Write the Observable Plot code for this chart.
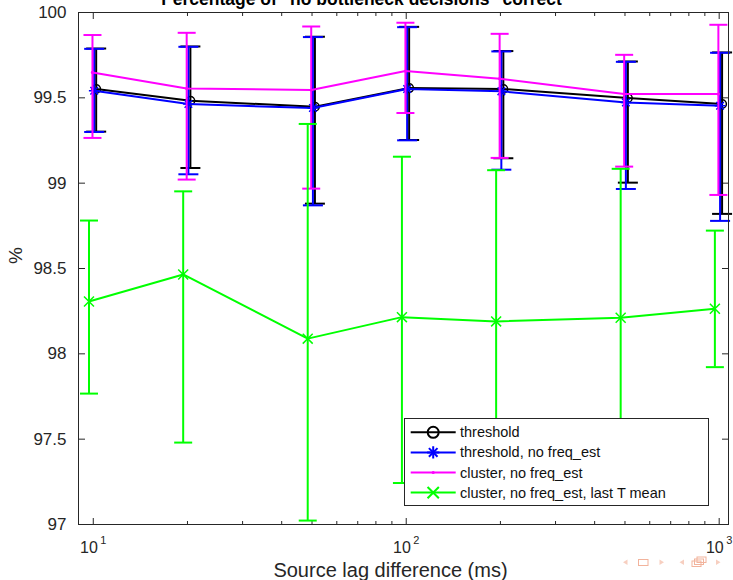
<!DOCTYPE html>
<html>
<head>
<meta charset="utf-8">
<script src="https://cdn.jsdelivr.net/npm/d3@7"></script>
<script src="https://cdn.jsdelivr.net/npm/@observablehq/plot@0.6"></script>
<style>
html, body { margin: 0; padding: 0; background: #fff; }
#chart { position: relative; width: 733px; height: 580px; overflow: hidden; }
</style>
</head>
<body>
<div id="chart"></div>
<script>
// ---------- data ----------
const lagMs = [10, 20, 50, 100, 200, 500, 1000];

const thresholdMean = [99.552, 99.483, 99.448, 99.557, 99.552, 99.499, 99.464];
const thresholdHi   = [99.789, 99.801, 99.858, 99.916, 99.774, 99.713, 99.766];
const thresholdLo   = [99.302, 99.089, 98.880, 99.253, 99.146, 99.003, 98.820];

const noFreqMean = [99.542, 99.464, 99.440, 99.552, 99.538, 99.473, 99.454];
const noFreqHi   = [99.787, 99.799, 99.856, 99.914, 99.772, 99.711, 99.764];
const noFreqLo   = [99.300, 99.052, 98.870, 99.251, 99.079, 98.966, 98.779];

const clusterMean = [99.649, 99.555, 99.546, 99.657, 99.612, 99.522, 99.522];
const clusterHi   = [99.868, 99.881, 99.918, 99.940, 99.875, 99.752, 99.928];
const clusterLo   = [99.265, 99.021, 98.968, 99.411, 99.148, 99.097, 98.931];

const lastTMean = [98.307, 98.465, 98.089, 98.215, 98.190, 98.211, 98.264];
const lastTHi   = [98.781, 98.952, 99.347, 99.155, 99.076, 99.084, 98.722];
const lastTLo   = [97.767, 97.480, 97.023, 97.243, 97.171, 97.279, 97.922];

const seriesNames = ["threshold", "threshold, no freq_est", "cluster, no freq_est", "cluster, no freq_est, last T mean"];
const seriesColors = ["#000000", "#0000ff", "#ff00ff", "#00ff00"];

const xMajorTicks = [10, 100, 1000];
const xMajorLabels = ["10^1", "10^2", "10^3"];
const xMinorTicks = [20, 30, 40, 50, 60, 70, 80, 90, 200, 300, 400, 500, 600, 700, 800, 900];
const yTicks = [97, 97.5, 98, 98.5, 99, 99.5, 100];
const yTickLabels = ["97", "97.5", "98", "98.5", "99", "99.5", "100"];

const titleText = "Percentage of \"no bottleneck decisions\" correct";
const xLabel = "Source lag difference (ms)";
const yLabel = "%";

// ---------- helpers ----------
const font = '"Liberation Sans", Arial, Helvetica, sans-serif';
const axisColor = "#262626";
const rows = (m, lo, hi) => lagMs.map((x, i) => ({x, mean: m[i], lo: lo[i], hi: hi[i]}));
const capSymbol = w => ({draw(ctx) { ctx.moveTo(-w, 0); ctx.lineTo(w, 0); }});
const tickSymbol = (ex, ey) => ({draw(ctx) { ctx.moveTo(0, 0); ctx.lineTo(ex, ey); }});

function errorSeries(data, color, dx, capHalf) {
  return [
    Plot.ruleX(data, {x: "x", y1: "lo", y2: "hi", dx, stroke: color, strokeWidth: 2}),
    Plot.dot(data, {x: "x", y: "hi", dx, symbol: capSymbol(capHalf), stroke: color, strokeWidth: 2, fill: "none"}),
    Plot.dot(data, {x: "x", y: "lo", dx, symbol: capSymbol(capHalf), stroke: color, strokeWidth: 2, fill: "none"}),
    Plot.line(data, {x: "x", y: "mean", dx, stroke: color, strokeWidth: 2})
  ];
}

const dThr = rows(thresholdMean, thresholdLo, thresholdHi);
const dNoF = rows(noFreqMean, noFreqLo, noFreqHi);
const dClu = rows(clusterMean, clusterLo, clusterHi);
const dLast = rows(lastTMean, lastTLo, lastTHi);

const plot = Plot.plot({
  width: 733,
  height: 580,
  marginLeft: 78,
  marginRight: 5,
  marginTop: 12,
  marginBottom: 56,
  x: {type: "log", domain: [8.97, 1071], axis: null},
  y: {domain: [97, 100], axis: null},
  style: {fontFamily: font, background: "white"},
  marks: [
    // ticks (inward, all four sides)
    Plot.dot(xMajorTicks, {x: d => d, frameAnchor: "bottom", symbol: tickSymbol(0, -6.5), stroke: axisColor, fill: "none", strokeWidth: 1}),
    Plot.dot(xMinorTicks, {x: d => d, frameAnchor: "bottom", symbol: tickSymbol(0, -3.5), stroke: axisColor, fill: "none", strokeWidth: 1}),
    Plot.dot(xMajorTicks, {x: d => d, frameAnchor: "top", symbol: tickSymbol(0, 6.5), stroke: axisColor, fill: "none", strokeWidth: 1}),
    Plot.dot(xMinorTicks, {x: d => d, frameAnchor: "top", symbol: tickSymbol(0, 3.5), stroke: axisColor, fill: "none", strokeWidth: 1}),
    Plot.dot(yTicks, {y: d => d, frameAnchor: "left", symbol: tickSymbol(6.5, 0), stroke: axisColor, fill: "none", strokeWidth: 1}),
    Plot.dot(yTicks, {y: d => d, frameAnchor: "right", symbol: tickSymbol(-6.5, 0), stroke: axisColor, fill: "none", strokeWidth: 1}),

    // series: threshold (black, circles)
    ...errorSeries(dThr, seriesColors[0], 2.9, 10),
    Plot.dot(dThr, {x: "x", y: "mean", dx: 2.9, r: 4.3, symbol: "circle", stroke: seriesColors[0], strokeWidth: 1.5, fill: "none"}),

    // threshold, no freq_est (blue, asterisks)
    ...errorSeries(dNoF, seriesColors[1], 0.9, 10),
    Plot.dot(dNoF, {x: "x", y: "mean", dx: 0.9, r: 3.5, symbol: "plus", stroke: seriesColors[1], strokeWidth: 1.5, fill: "none"}),
    Plot.dot(dNoF, {x: "x", y: "mean", dx: 0.9, r: 3.5, symbol: "times", stroke: seriesColors[1], strokeWidth: 1.5, fill: "none"}),

    // cluster, no freq_est (magenta, dots)
    ...errorSeries(dClu, seriesColors[2], -0.8, 9),
    Plot.dot(dClu, {x: "x", y: "mean", dx: -0.8, r: 1.6, fill: seriesColors[2], stroke: "none"}),

    // cluster, no freq_est, last T mean (green, x)
    ...errorSeries(dLast, seriesColors[3], -4.3, 9),
    Plot.dot(dLast, {x: "x", y: "mean", dx: -4.3, r: 4.6, symbol: "times", stroke: seriesColors[3], strokeWidth: 1.5, fill: "none"}),

    Plot.frame({stroke: axisColor, strokeWidth: 1}),

    // tick labels
    Plot.text(yTicks, {y: d => d, text: (d, i) => yTickLabels[i], frameAnchor: "left", textAnchor: "end", dx: -12, fontSize: 17, fill: axisColor}),
    Plot.text(xMajorTicks, {x: d => d, text: (d, i) => xMajorLabels[i], frameAnchor: "bottom", lineAnchor: "bottom", dy: 28.4, fontSize: 16, fill: axisColor}),

    // axis labels & title
    Plot.text([xLabel], {text: d => d, frameAnchor: "bottom", lineAnchor: "bottom", dx: -13, dy: 52.4, fontSize: 20, fill: axisColor}),
    Plot.text([yLabel], {text: d => d, frameAnchor: "left", rotate: -90, dx: -63, dy: -4.5, fontSize: 19, fill: axisColor}),
    Plot.text([titleText], {text: d => d, frameAnchor: "top", lineAnchor: "bottom", dx: -42, dy: -8, fontSize: 17.5, fontWeight: "bold", fill: "#000"})
  ]
});

document.getElementById("chart").appendChild(plot);

const svg = d3.select(plot);

// superscript exponents on x tick labels
svg.selectAll("text").each(function() {
  const t = this.textContent;
  if (t.includes("^")) {
    const [base, exp] = t.split("^");
    const sel = d3.select(this);
    sel.text(null);
    sel.append("tspan").text(base);
    sel.append("tspan").attr("dx", 2.5).attr("dy", -8.7).attr("font-size", 11).text(exp);
  }
});

// ---------- legend (inside axes, lower right) ----------
const lg = svg.append("g").attr("font-family", font).attr("text-anchor", "start");
lg.append("rect").attr("x", 404.5).attr("y", 418.5).attr("width", 304).attr("height", 87)
  .attr("fill", "white").attr("stroke", axisColor).attr("stroke-width", 1);
const sym = (type, r) => d3.symbol().type(type).size(r * r * Math.PI)();
seriesNames.forEach((name, i) => {
  const cy = 432.3 + i * 20.1;
  const g = lg.append("g");
  g.append("line").attr("x1", 410.7).attr("x2", 455.7).attr("y1", cy).attr("y2", cy)
    .attr("stroke", seriesColors[i]).attr("stroke-width", 2);
  const mk = g.append("g").attr("transform", `translate(433.2,${cy})`);
  if (i === 0) mk.append("circle").attr("r", 5.5).attr("fill", "none").attr("stroke", seriesColors[i]).attr("stroke-width", 2);
  if (i === 1) {
    mk.append("path").attr("d", sym(d3.symbolPlus, 4)).attr("fill", "none").attr("stroke", seriesColors[i]).attr("stroke-width", 2);
    mk.append("path").attr("d", sym(d3.symbolTimes, 4)).attr("fill", "none").attr("stroke", seriesColors[i]).attr("stroke-width", 2);
  }
  if (i === 2) mk.append("circle").attr("r", 1.6).attr("fill", seriesColors[i]);
  if (i === 3) mk.append("path").attr("d", sym(d3.symbolTimes, 5.2)).attr("fill", "none").attr("stroke", seriesColors[i]).attr("stroke-width", 2);
  g.append("text").attr("x", 460).attr("y", cy).attr("dy", "0.35em").attr("font-size", 14.5)
    .attr("text-anchor", "start").attr("fill", "#111").text(name);
});

// ---------- beamer navigation symbols (decoration) ----------
const nav = svg.append("g").attr("fill", "none").attr("stroke", "#f2b39c").attr("stroke-width", 1);
nav.append("path").attr("d", "M627.5,559.5 L623,562.3 L627.5,565.1 Z").attr("fill", "#f7cfc0").attr("stroke", "none");
nav.append("rect").attr("x", 638.5).attr("y", 559.5).attr("width", 9.5).attr("height", 6);
nav.append("path").attr("d", "M659.5,559.5 L664,562.3 L659.5,565.1 Z").attr("fill", "#f7cfc0").attr("stroke", "none");
nav.append("path").attr("d", "M684,559.5 L679.5,562.3 L684,565.1 Z").attr("fill", "#f7cfc0").attr("stroke", "none");
nav.append("rect").attr("x", 692).attr("y", 561).attr("width", 9).attr("height", 5.5);
nav.append("rect").attr("x", 694.5).attr("y", 559).attr("width", 9).attr("height", 5.5);
nav.append("rect").attr("x", 697).attr("y", 557).attr("width", 9).attr("height", 5.5);
nav.append("path").attr("d", "M716,559.5 L720.5,562.3 L716,565.1 Z").attr("fill", "#f7cfc0").attr("stroke", "none");
</script>
</body>
</html>
